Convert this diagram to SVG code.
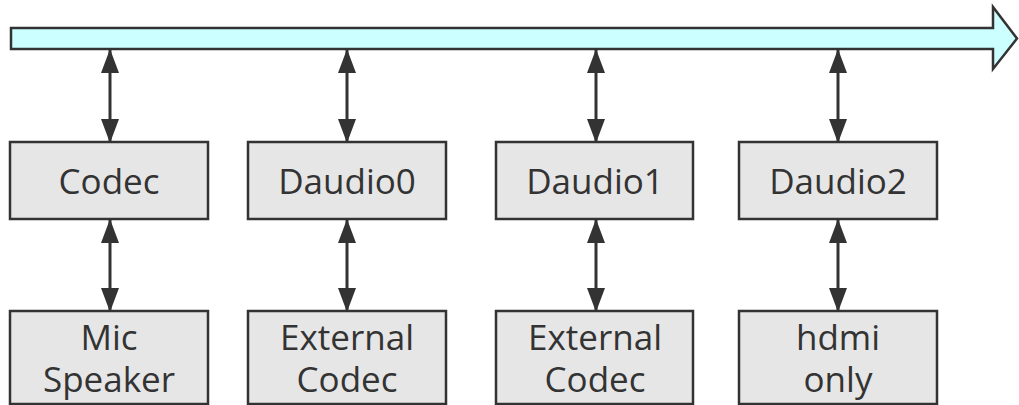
<svg xmlns="http://www.w3.org/2000/svg" width="1019" height="405" viewBox="0 0 1019 405">
<style>
.box{fill:#e6e6e6;stroke:#333;stroke-width:2.5}
.t{font-family:"Open Sans","Noto Sans",sans-serif;font-size:35px;fill:#333;text-anchor:middle}
.c{stroke:#333;stroke-width:3;fill:none;marker-start:url(#a);marker-end:url(#a)}
</style>
<defs>
<marker id="a" viewBox="0 0 24 18" refX="23" refY="9" markerWidth="24" markerHeight="18" markerUnits="userSpaceOnUse" orient="auto-start-reverse">
<path d="M0,0 L24,9 L0,18 Z" fill="#333"/>
</marker>
</defs>
<g id="bus">
<path d="M11,28 H993 V7 L1017,38.5 L993,69 V49 H11 Z" fill="#ccffff" stroke="#333" stroke-width="2.5" stroke-linejoin="miter"/>
</g>
<g id="connectors">
<line class="c" x1="110" y1="50" x2="110" y2="142"/>
<line class="c" x1="347" y1="50" x2="347" y2="142"/>
<line class="c" x1="596" y1="50" x2="596" y2="142"/>
<line class="c" x1="838" y1="50" x2="838" y2="142"/>
<line class="c" x1="110" y1="220" x2="110" y2="311"/>
<line class="c" x1="347" y1="220" x2="347" y2="311"/>
<line class="c" x1="596" y1="220" x2="596" y2="311"/>
<line class="c" x1="838" y1="220" x2="838" y2="311"/>
</g>
<g id="codec"><rect class="box" x="10" y="142" width="198" height="77"/><text class="t" x="109" y="194">Codec</text></g>
<g id="daudio0"><rect class="box" x="248" y="142" width="198" height="77"/><text class="t" x="347" y="194">Daudio0</text></g>
<g id="daudio1"><rect class="box" x="496" y="142" width="197" height="77"/><text class="t" x="595" y="194">Daudio1</text></g>
<g id="daudio2"><rect class="box" x="739" y="142" width="198" height="77"/><text class="t" x="838" y="194">Daudio2</text></g>
<g id="mic"><rect class="box" x="10" y="311" width="198" height="93"/><text class="t" x="109" y="350">Mic</text><text class="t" x="109" y="392">Speaker</text></g>
<g id="ext0"><rect class="box" x="248" y="311" width="198" height="93"/><text class="t" x="347" y="350">External</text><text class="t" x="347" y="392">Codec</text></g>
<g id="ext1"><rect class="box" x="496" y="311" width="197" height="93"/><text class="t" x="595" y="350">External</text><text class="t" x="595" y="392">Codec</text></g>
<g id="hdmi"><rect class="box" x="739" y="311" width="198" height="93"/><text class="t" x="838" y="350">hdmi</text><text class="t" x="838" y="392">only</text></g>
</svg>
